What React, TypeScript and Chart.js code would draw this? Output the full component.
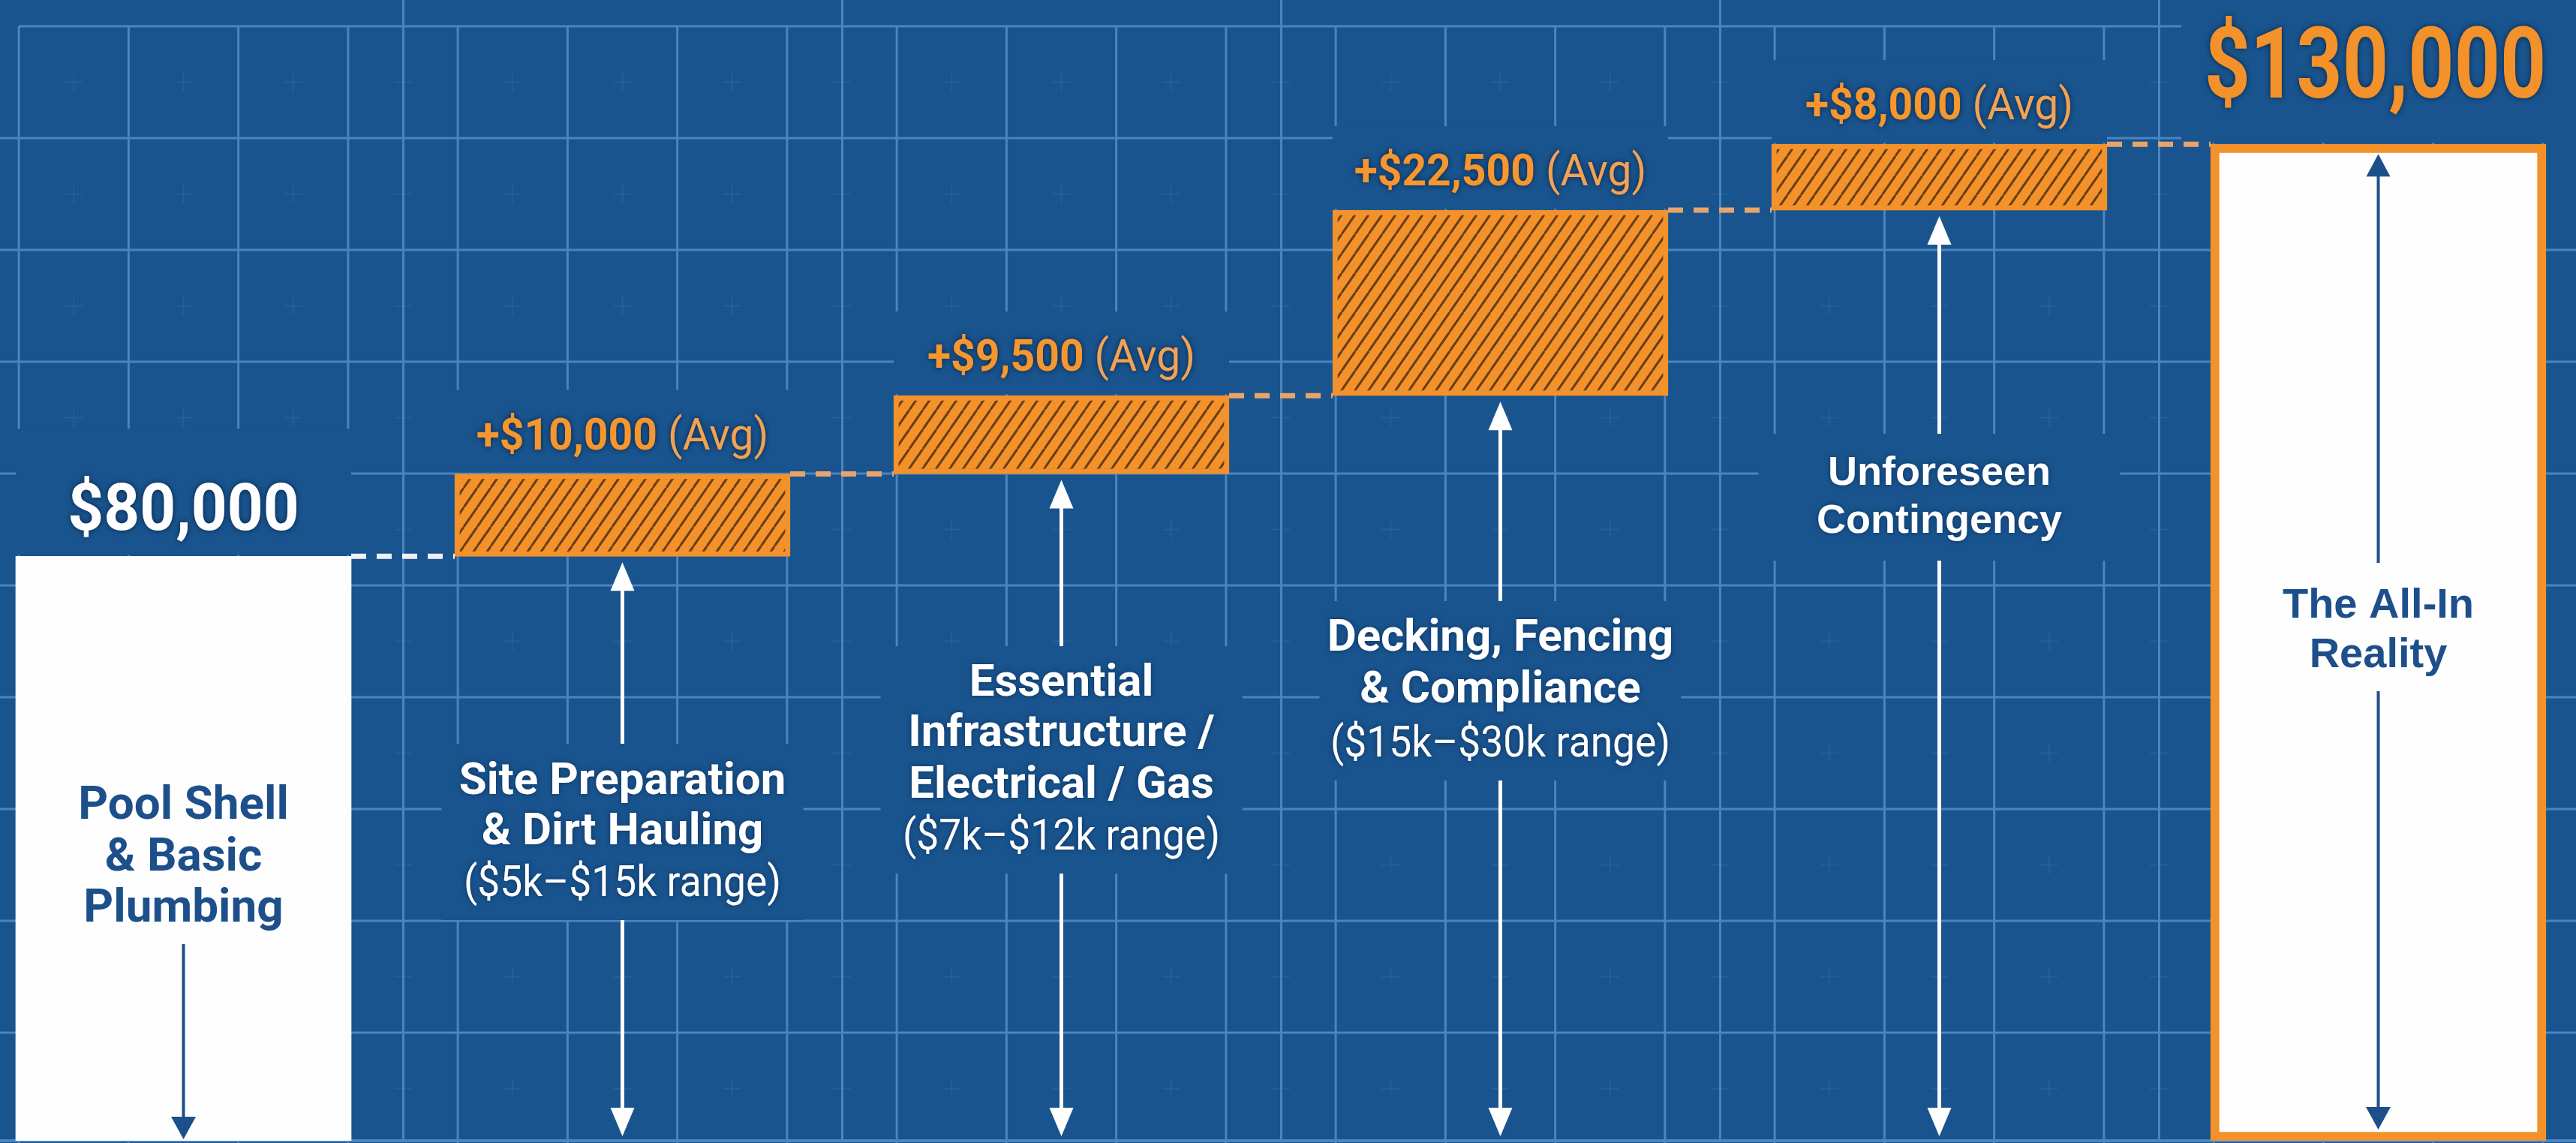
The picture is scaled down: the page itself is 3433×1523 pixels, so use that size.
import React, { useEffect, useRef } from "react";
import { Chart, registerables } from "chart.js";
Chart.register(...registerables);

// ---------------- data ----------------
const categories = [
  "Pool Shell & Basic Plumbing",
  "Site Preparation & Dirt Hauling",
  "Essential Infrastructure / Electrical / Gas",
  "Decking, Fencing & Compliance",
  "Unforeseen Contingency",
  "The All-In Reality",
];
const categoryLines = [
  ["Pool Shell", "& Basic", "Plumbing"],
  ["Site Preparation", "& Dirt Hauling"],
  ["Essential", "Infrastructure /", "Electrical / Gas"],
  ["Decking, Fencing", "& Compliance"],
  ["Unforeseen", "Contingency"],
  ["The All-In", "Reality"],
];
const rangeNotes = ["", "($5k–$15k range)", "($7k–$12k range)", "($15k–$30k range)", "", ""];
const stepKinds = ["base", "add", "add", "add", "add", "total"];
const stepValues = [80000, 10000, 9500, 22500, 8000, 130000];
const valueLabels = ["$80,000", "+$10,000", "+$9,500", "+$22,500", "+$8,000", "$130,000"];
const valueSuffixes = ["", "(Avg)", "(Avg)", "(Avg)", "(Avg)", ""];
const yAxisMin = 9100;
const yAxisMax = 147500;

// ---------------- style / layout ----------------
const BG = "#19548e";
const GRID = "#4c84c2";
const ORANGE = "#f3922a";
const HATCH = "#6a3d14";
const DARK = "#1d4f8b";
const WHITE = "#ffffff";
const DASH_ORANGE = "#e9a569";
const OFFSET_X = 48; // canvas begins 48px to the left of the page
const GRID_TOP = 35;
const GRID_STEP_Y = 149;

type ColLayout = {
  lineY: number[];
  rangeY?: number;
  box?: [number, number];
  upEnd?: number;
  down?: [number, number];
  font: string;
  color: string;
  arrowColor: string;
};
const LAYOUT: ColLayout[] = [
  { lineY: [1091, 1160, 1228], down: [1258, 1518], font: "bold 62px Roboto", color: DARK, arrowColor: DARK },
  { lineY: [1058, 1125], rangeY: 1194, box: [991, 1226], upEnd: 991, down: [1226, 1514], font: "bold 60px Roboto", color: WHITE, arrowColor: WHITE },
  { lineY: [927, 994, 1063], rangeY: 1132, box: [861, 1164], upEnd: 861, down: [1164, 1514], font: "bold 60px Roboto", color: WHITE, arrowColor: WHITE },
  { lineY: [867, 936], rangeY: 1008, box: [801, 1040], upEnd: 801, down: [1040, 1514], font: "bold 60px Roboto", color: WHITE, arrowColor: WHITE },
  { lineY: [646, 710], box: [578, 747], upEnd: 578, down: [747, 1514], font: "bold 54px 'Liberation Sans', Arial, sans-serif", color: WHITE, arrowColor: WHITE },
  { lineY: [823, 889], upEnd: 750, down: [921, 1505], font: "bold 56px 'Liberation Sans', Arial, sans-serif", color: DARK, arrowColor: DARK },
];

function buildRanges(): [number, number][] {
  const out: [number, number][] = [];
  let run = 0;
  stepValues.forEach((v, i) => {
    if (stepKinds[i] === "base") {
      out.push([yAxisMin, v]);
      run = v;
    } else if (stepKinds[i] === "add") {
      out.push([run, run + v]);
      run += v;
    } else {
      out.push([yAxisMin, v]);
    }
  });
  return out;
}

function txt(ctx: CanvasRenderingContext2D, s: string, x: number, y: number, font: string, color: string, sx = 1, align: CanvasTextAlign = "center") {
  ctx.save();
  ctx.font = font;
  ctx.fillStyle = color;
  ctx.textAlign = align;
  ctx.textBaseline = "alphabetic";
  ctx.translate(x, y);
  ctx.scale(sx, 1);
  ctx.fillText(s, 0, 0);
  ctx.restore();
}

function arrowHead(ctx: CanvasRenderingContext2D, x: number, tipY: number, dir: number, w: number, h: number, color: string) {
  ctx.beginPath();
  ctx.moveTo(x, tipY);
  ctx.lineTo(x - w / 2, tipY - dir * h);
  ctx.lineTo(x + w / 2, tipY - dir * h);
  ctx.closePath();
  ctx.fillStyle = color;
  ctx.fill();
}

function vline(ctx: CanvasRenderingContext2D, x: number, y1: number, y2: number, color: string, w: number) {
  ctx.beginPath();
  ctx.moveTo(x, y1);
  ctx.lineTo(x, y2);
  ctx.strokeStyle = color;
  ctx.lineWidth = w;
  ctx.stroke();
}

const decor = {
  id: "decor",
  beforeDraw(chart: any) {
    const { ctx, width, height } = chart;
    const xs = chart.scales.x;
    const catW = xs.width / categories.length;
    const cell = catW / 4;
    const x0 = xs.left + catW - 3.5 * cell;
    ctx.save();
    ctx.fillStyle = BG;
    ctx.fillRect(0, 0, width, height);
    // faint crosses at cell centres
    ctx.strokeStyle = "rgba(110,155,210,0.14)";
    ctx.lineWidth = 2;
    for (let k = 0; x0 + (k + 0.5) * cell < width; k++) {
      const cx = x0 + (k + 0.5) * cell;
      for (let j = 0; GRID_TOP + (j + 0.5) * GRID_STEP_Y < height; j++) {
        const cy = GRID_TOP + (j + 0.5) * GRID_STEP_Y;
        ctx.beginPath();
        ctx.moveTo(cx - 12, cy);
        ctx.lineTo(cx + 12, cy);
        ctx.moveTo(cx, cy - 12);
        ctx.lineTo(cx, cy + 12);
        ctx.stroke();
      }
    }
    // minor vertical lines
    for (let k = 0; x0 + k * cell < width; k++) {
      const x = x0 + k * cell;
      vline(ctx, x, GRID_TOP, height, GRID, 3);
    }
    // horizontal lines
    for (let j = 0; GRID_TOP + j * GRID_STEP_Y < height; j++) {
      const y = GRID_TOP + j * GRID_STEP_Y;
      ctx.beginPath();
      ctx.moveTo(j === 0 ? x0 : 0, y);
      ctx.lineTo(j === 0 ? 2907 + OFFSET_X : width, y);
      ctx.strokeStyle = GRID;
      ctx.lineWidth = 3;
      ctx.stroke();
    }
    ctx.restore();
  },
  beforeDatasetsDraw(chart: any) {
    const { ctx, width } = chart;
    const bars = chart.getDatasetMeta(0).data;
    ctx.save();
    ctx.fillStyle = BG;
    bars.forEach((b: any, i: number) => {
      const left = b.x - b.width / 2;
      const top = Math.min(b.y, b.base);
      if (i === 0) ctx.fillRect(left, top - 170, b.width, 168);
      else if (i === bars.length - 1) ctx.fillRect(2907 + OFFSET_X, 0, width, top - 2);
      else ctx.fillRect(left, top - 112, b.width, 110);
      const L = LAYOUT[i];
      if (L.box) ctx.fillRect(b.x - 241, L.box[0], 482, L.box[1] - L.box[0]);
    });
    ctx.restore();
  },
  afterDatasetsDraw(chart: any) {
    const { ctx } = chart;
    const bars = chart.getDatasetMeta(0).data;
    ctx.save();
    // dashed connectors
    ctx.setLineDash([20, 14]);
    ctx.lineWidth = 7;
    for (let i = 0; i < bars.length - 1; i++) {
      const a = bars[i];
      const b = bars[i + 1];
      const y = Math.min(a.y, a.base);
      ctx.strokeStyle = i === 0 ? "rgba(255,255,255,0.92)" : DASH_ORANGE;
      ctx.beginPath();
      ctx.moveTo(a.x + a.width / 2, y);
      ctx.lineTo(b.x - b.width / 2, y);
      ctx.stroke();
    }
    ctx.setLineDash([]);

    bars.forEach((b: any, i: number) => {
      const L = LAYOUT[i];
      const top = Math.min(b.y, b.base);
      const bottom = Math.max(b.y, b.base);
      const x = b.x;
      // arrows
      if (L.upEnd !== undefined) {
        const tip = i === bars.length - 1 ? top + 13 : bottom + 8;
        const light = L.arrowColor === WHITE;
        vline(ctx, x, tip + 20, L.upEnd, L.arrowColor, light ? 5 : 4);
        arrowHead(ctx, x, tip, -1, 32, light ? 38 : 30, L.arrowColor);
      }
      if (L.down) {
        const light = L.arrowColor === WHITE;
        vline(ctx, x, L.down[0], L.down[1] - 20, L.arrowColor, light ? 5 : 4);
        arrowHead(ctx, x, L.down[1], 1, light ? 32 : 33, light ? 38 : 30, L.arrowColor);
      }
      // category text
      ctx.save();
      if (L.color === WHITE) {
        ctx.shadowColor = "rgba(5,25,60,0.55)";
        ctx.shadowBlur = 6;
      }
      categoryLines[i].forEach((s, k) => txt(ctx, s, x, L.lineY[k], L.font, L.color));
      if (rangeNotes[i] && L.rangeY) txt(ctx, rangeNotes[i], x, L.rangeY, "58px Roboto", WHITE, 0.92);
      ctx.restore();

      // value labels
      ctx.save();
      ctx.shadowColor = "rgba(5,20,45,0.75)";
      ctx.shadowBlur = 7;
      if (i === 0) {
        txt(ctx, valueLabels[i], x, top - 35, "bold 88px Roboto", WHITE, 0.95);
      } else if (i === bars.length - 1) {
        txt(ctx, valueLabels[i], x - 4, top - 62, "bold 132px Roboto", ORANGE, 0.81);
      } else {
        const sx = 0.95;
        ctx.font = "bold 60px Roboto";
        const w1 = ctx.measureText(valueLabels[i]).width * sx;
        ctx.font = "60px Roboto";
        const w2 = ctx.measureText(valueSuffixes[i]).width * sx;
        const gap = 14;
        const start = x - (w1 + gap + w2) / 2;
        txt(ctx, valueLabels[i], start, top - 33, "bold 60px Roboto", "#f5962f", sx, "left");
        txt(ctx, valueSuffixes[i], start + w1 + gap, top - 33, "60px Roboto", "#f2a252", sx, "left");
      }
      ctx.restore();
    });
    ctx.restore();
  },
};

export default function App() {
  const canvasRef = useRef<HTMLCanvasElement | null>(null);
  useEffect(() => {
    document.body.style.margin = "0";
    document.body.style.overflow = "hidden";
    document.documentElement.style.overflow = "hidden";
    document.body.style.background = BG;
    const canvas = canvasRef.current!;
    const ctx = canvas.getContext("2d")!;
    const tile = document.createElement("canvas");
    tile.width = 18;
    tile.height = 26;
    const tc = tile.getContext("2d")!;
    tc.fillStyle = ORANGE;
    tc.fillRect(0, 0, 18, 26);
    tc.strokeStyle = HATCH;
    tc.lineWidth = 3;
    for (let i = -1; i <= 1; i++) {
      tc.beginPath();
      tc.moveTo(i * 18, 26);
      tc.lineTo((i + 1) * 18, 0);
      tc.stroke();
    }
    const hatch = ctx.createPattern(tile, "repeat") || ORANGE;

    const ranges = buildRanges();
    const chart = new Chart(canvas, {
      type: "bar",
      data: {
        labels: categories,
        datasets: [
          {
            data: ranges as any,
            backgroundColor: stepKinds.map((k) => (k === "add" ? hatch : "#fefefe")) as any,
            borderColor: stepKinds.map((k) => (k === "base" ? "#fefefe" : ORANGE)),
            borderWidth: stepKinds.map((k) => (k === "base" ? 0 : k === "total" ? 12 : 7)),
            borderSkipped: false,
            barThickness: 447,
          },
        ],
      },
      options: {
        animation: false,
        responsive: true,
        maintainAspectRatio: false,
        layout: { padding: { left: 0, right: 0, top: 0, bottom: 3 } },
        plugins: { legend: { display: false }, tooltip: { enabled: false } },
        scales: {
          x: {
            type: "category",
            offset: true,
            ticks: { display: false },
            grid: { display: true, offset: true, color: GRID, lineWidth: 3, drawTicks: false, tickLength: 0 },
            border: { display: true, color: GRID, width: 4 },
          },
          y: { display: false, min: yAxisMin, max: yAxisMax },
        },
      },
      plugins: [decor],
    });
    return () => chart.destroy();
  }, []);
  return (
    <div style={{ position: "fixed", left: -OFFSET_X, top: 0, width: 3510, height: 1523, background: BG }}>
      <canvas ref={canvasRef} />
    </div>
  );
}
